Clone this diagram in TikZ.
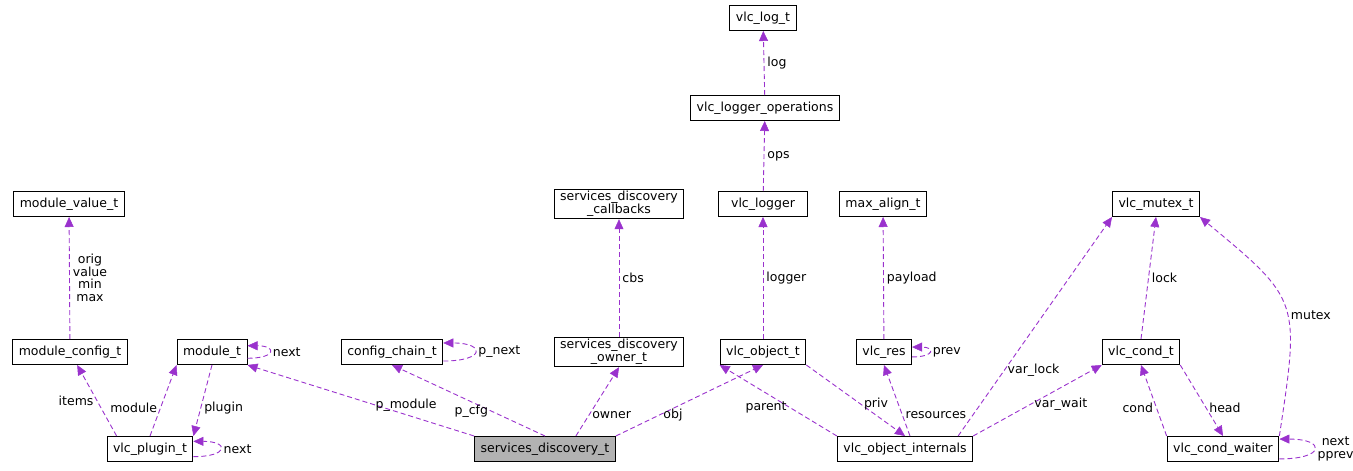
\documentclass[tikz,border=0pt]{standalone}
\usepackage{fontspec}
\setmainfont{DejaVu Sans}
\usetikzlibrary{positioning,arrows.meta}
\definecolor{edgepurple}{HTML}{9A32CD}
\tikzset{
 box/.style={draw=black,line width=1pt,fill=white,minimum height=25pt,inner xsep=6pt,inner ysep=2pt,
   font=\fontsize{12.5}{13}\selectfont,align=center},
 rel/.style={draw=edgepurple,line width=0.9pt,dash pattern=on 5pt off 3pt,
   -{Triangle[width=9pt,length=10pt,fill=edgepurple,line width=0.5pt]}},
 loop/.style={rel,looseness=6},
 lbl/.style={font=\fontsize{12.5}{12.5}\selectfont,text=black,inner sep=3pt,align=center}
}
\begin{document}
\begin{tikzpicture}[x=1pt,y=-1pt]
 \useasboundingbox (0,0) rectangle (1353,471);
 % nodes
 \node[box] (logt) at (763,18) {vlc\_log\_t};
 \node[box] (ops) at (765,108) {vlc\_logger\_operations};
 \node[box,minimum width=89pt] (logger) at (763,204) {vlc\_logger};
 \node[box] (cbs) at (619,204) {services\_discovery\\\_callbacks};
 \node[box] (maxal) at (883,204) {max\_align\_t};
 \node[box] (mutex) at (1156,204) {vlc\_mutex\_t};
 \node[box] (mvalue) at (69,204) {module\_value\_t};
 \node[box] (mconfig) at (70,352) {module\_config\_t};
 \node[box] (module) at (212,352) {module\_t};
 \node[box] (chain) at (392,352) {config\_chain\_t};
 \node[box] (owner) at (619,352) {services\_discovery\\\_owner\_t};
 \node[box] (object) at (763,352) {vlc\_object\_t};
 \node[box] (res) at (884,352) {vlc\_res};
 \node[box] (cond) at (1141,352) {vlc\_cond\_t};
 \node[box] (plugin) at (150,449) {vlc\_plugin\_t};
 \node[box,fill=gray!60] (sd) at (545,449) {services\_discovery\_t};
 \node[box] (intern) at (905,449) {vlc\_object\_internals};
 \node[box] (waiter) at (1223,449) {vlc\_cond\_waiter};
 % relations
 \draw[rel] (ops) -- node[lbl,right] {log} (logt);
 \draw[rel] (logger) -- node[lbl,right] {ops} (ops);
 \draw[rel] (object) -- node[lbl,right] {logger} (logger);
 \draw[rel] (owner) -- node[lbl,right] {cbs} (cbs);
 \draw[rel] (res) -- node[lbl,right] {payload} (maxal);
 \draw[rel] (mconfig) -- node[lbl,right] {orig\\value\\min\\max} (mvalue);
 \draw[rel] (plugin.north west) ++(10,0) coordinate (p1) (p1) -- node[lbl,left] {items} (mconfig);
 \draw[rel] (plugin.north) -- node[lbl,left,pos=0.4] {module} (module.south west);
 \draw[rel] (module.south) -- node[lbl,right,pos=0.6] {plugin} (plugin.north east);
 \draw[loop] (module.-10) to[out=0,in=0] node[lbl,right] {next} (module.10);
 \draw[loop] (chain.-10) to[out=0,in=0] node[lbl,right] {p\_next} (chain.10);
 \draw[loop] (plugin.-10) to[out=0,in=0] node[lbl,right] {next} (plugin.10);
 \draw[loop] (res.-10) to[out=0,in=0] node[lbl,right] {prev} (res.10);
 \draw[loop] (waiter.-10) to[out=0,in=0] node[lbl,right] {next\\pprev} (waiter.10);
 \draw[rel] (sd.north west) -- node[lbl,pos=0.3,above] {p\_module} (module.south east);
 \draw[rel] (sd.north) -- node[lbl,pos=0.35,left] {p\_cfg} (chain.south);
 \draw[rel] (sd.north east) ++(-40,0) coordinate (s1) (s1) -- node[lbl,pos=0.3,right] {owner} (owner.south);
 \draw[rel] (sd.north east) -- node[lbl,pos=0.3,right] {obj} (object.south);
 \draw[rel] (intern.north west) -- node[lbl,pos=0.4,left] {parent} (object.south west);
 \draw[rel] (object.south east) -- node[lbl,pos=0.55,right] {priv} (intern.north);
 \draw[rel] (intern.north) ++(5,0) coordinate (i1) (i1) -- node[lbl,pos=0.3,right] {resources} (res.south);
 \draw[rel] (intern.north east) ++(-15,0) coordinate (i2) (i2) -- node[lbl,pos=0.3,right] {var\_lock} (mutex.south west);
 \draw[rel] (intern.north east) -- node[lbl,pos=0.45,right] {var\_wait} (cond.south west);
 \draw[rel] (cond.north) -- node[lbl,right] {lock} (mutex.south);
 \draw[rel] (waiter.north west) -- node[lbl,pos=0.4,left] {cond} (cond.south);
 \draw[rel] (cond.south east) -- node[lbl,pos=0.6,right] {head} (waiter.north);
 \draw[rel] (waiter.north east) .. controls (1300,300) .. node[lbl,pos=0.45,right] {mutex} (mutex.south east);
\end{tikzpicture}
\end{document}
